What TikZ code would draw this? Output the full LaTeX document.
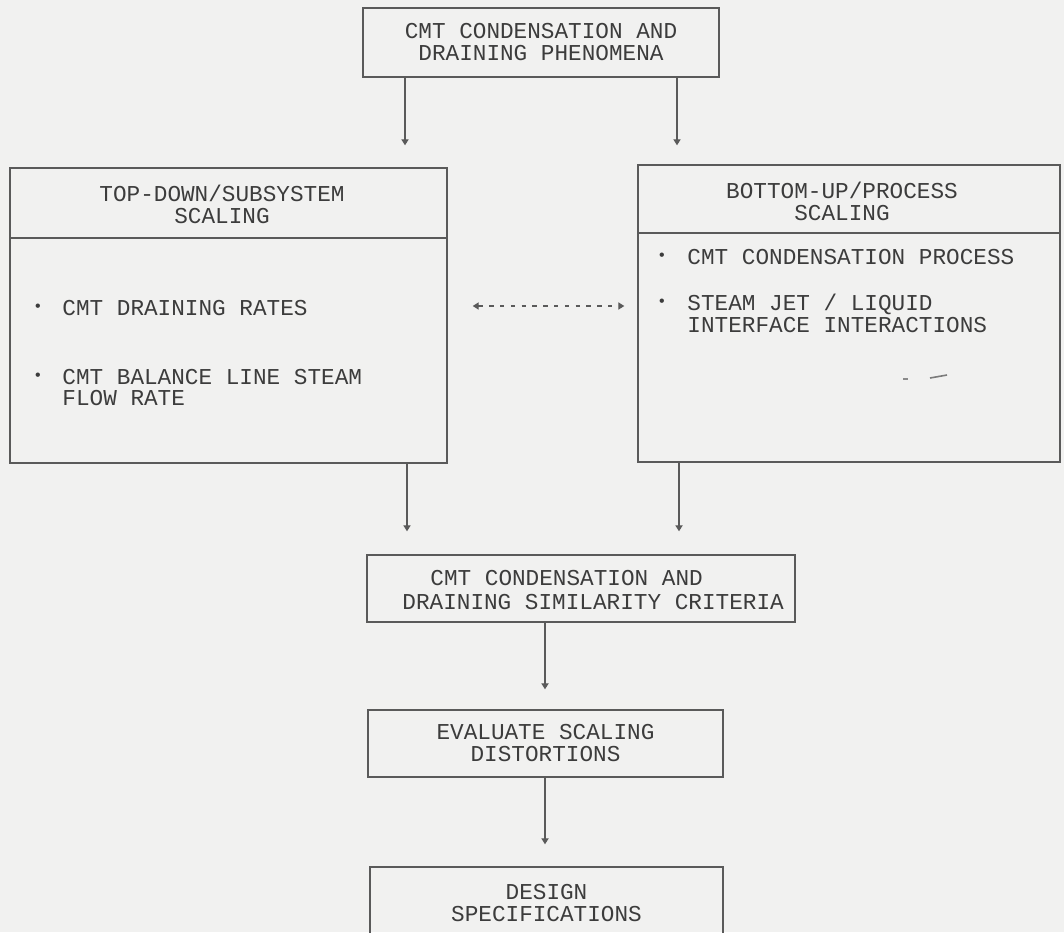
\documentclass[tikz,border=0pt]{standalone}
\usepackage{fontspec}
\setmainfont{Liberation Mono}
\usetikzlibrary{arrows.meta}
\definecolor{bg}{HTML}{F1F1F0}
\definecolor{ink}{HTML}{3C3C3C}
\definecolor{edge}{HTML}{5A5A5A}
\tikzset{
  box/.style={draw=edge, line width=0.7pt, rectangle, inner sep=0pt, text=ink,
    align=center, font=\fontsize{11.35}{11}\selectfont},
  ttl/.style={text=ink, align=center, inner sep=0pt, font=\fontsize{11.35}{11}\selectfont},
  itm/.style={text=ink, anchor=west, inner sep=0pt, text height=7.5pt, text depth=0pt,
    font=\fontsize{11.35}{11}\selectfont},
  bul/.style={text=ink, inner sep=0pt, font=\fontsize{8}{8}\selectfont},
  arr/.style={draw=edge, line width=0.6pt, -{Triangle[length=3pt,width=3.6pt]}},
  dotarr/.style={draw=edge, line width=0.6pt, dash pattern=on 2.2pt off 3.2pt,
    {Triangle[length=3pt,width=3.6pt]}-{Triangle[length=3pt,width=3.6pt]}},
}
\begin{document}
\begin{tikzpicture}[x=0.5pt,y=-0.5pt]
\fill[bg] (0,0) rectangle (1064,932);
\useasboundingbox (0,0) rectangle (1064,932);
\clip (0,0) rectangle (1064,932);

% boxes
\node[box, minimum width=178pt, minimum height=34.5pt] (top) at (541,42.5)
  {CMT CONDENSATION AND\\DRAINING PHENOMENA};
\node[box, minimum width=218.5pt, minimum height=147.5pt] (left) at (228.5,315.5) {};
\node[box, minimum width=211pt, minimum height=148.5pt] (right) at (849,313.5) {};
\node[box, minimum width=214pt, minimum height=33.5pt] (sim) at (581,588.5) {};
\node[itm] (sim1) at (430,578) {CMT CONDENSATION AND};
\node[itm] (sim2) at (402,602) {DRAINING SIMILARITY CRITERIA};
\node[box, minimum width=177.5pt, minimum height=33.5pt] (eval) at (545.5,743.5)
  {EVALUATE SCALING\\DISTORTIONS};
\node[box, minimum width=176.5pt, minimum height=40pt] (design) at (546.5,907) {};
\node[ttl] (designtxt) at (546.5,903) {DESIGN\\SPECIFICATIONS};

% dividers
\coordinate (ldiv) at (0,238);
\coordinate (rdiv) at (0,233);
\draw[draw=edge, line width=0.7pt] (left.west |- ldiv) -- (left.east |- ldiv);
\draw[draw=edge, line width=0.7pt] (right.west |- rdiv) -- (right.east |- rdiv);

% titles
\node[ttl] (lt) at (222,204) {TOP-DOWN/SUBSYSTEM\\SCALING};
\node[ttl] (rt) at (842,201) {BOTTOM-UP/PROCESS\\SCALING};

% left items
\node[bul] (lb1) at (38,308) {•};
\node[itm] (li1) at (62,308) {CMT DRAINING RATES};
\node[bul] (lb2) at (38,377) {•};
\node[itm] (li2) at (62,377) {CMT BALANCE LINE STEAM};
\node[itm] (li3) at (62,398) {FLOW RATE};

% right items
\node[bul] (rb1) at (662,257) {•};
\node[itm] (ri1) at (687,257) {CMT CONDENSATION PROCESS};
\node[bul] (rb2) at (662,303) {•};
\node[itm] (ri2) at (687,303) {STEAM JET / LIQUID};
\node[itm] (ri3) at (687,325) {INTERFACE INTERACTIONS};

% stray mark
\draw[draw=edge!70, line width=0.6pt] (903,379) -- (908,379);
\draw[draw=edge!80, line width=0.8pt] (930,378) -- (947,375);

% connectors
\coordinate (xa) at (405,0);
\coordinate (xb) at (677,0);
\coordinate (xc) at (407,0);
\coordinate (xd) at (679,0);
\coordinate (xe) at (545,0);
\coordinate (yd) at (0,306);
\draw[arr, shorten >=11pt] (top.south -| xa) -- (left.north -| xa);
\draw[arr, shorten >=9.5pt] (top.south -| xb) -- (right.north -| xb);
\draw[arr, shorten >=11.5pt] (left.south -| xc) -- (sim.north -| xc);
\draw[arr, shorten >=11.5pt] (right.south -| xd) -- (sim.north -| xd);
\draw[arr, shorten >=10pt] (sim.south -| xe) -- (eval.north -| xe);
\draw[arr, shorten >=11pt] (eval.south -| xe) -- (design.north -| xe);
\draw[dotarr, shorten <=12.5pt, shorten >=6.5pt] (left.east |- yd) -- (right.west |- yd);
\end{tikzpicture}
\end{document}
